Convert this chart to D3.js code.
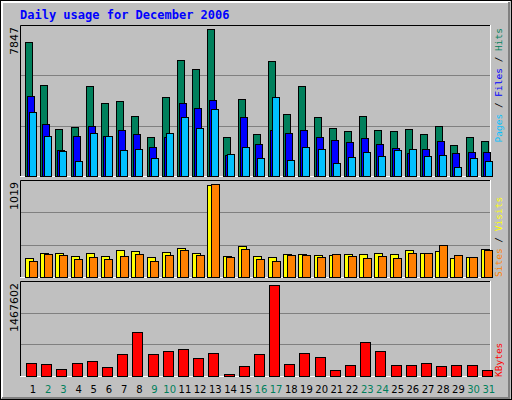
<!DOCTYPE html>
<html><head><meta charset="utf-8">
<script src="https://cdn.jsdelivr.net/npm/d3@7"></script>
<style>body{margin:0;background:#fff}</style>
</head><body>
<svg id="chart" width="512" height="400"></svg>
<script>
const days = d3.range(1, 32);
const weekend = [2, 3, 9, 10, 16, 17, 23, 24, 30, 31];
const hits  = [7154,4864,2521,2627,4811,3906,4012,3213,2095,4225,6196,5716,7847,2095,4119,2255,6143,3320,4811,3160,2574,2414,3213,2468,2414,2521,2255,2681,1669,2095,1882];
const files = [4278,2787,1402,2148,2681,2148,2468,2255,1562,2095,3906,3639,4065,1136,3160,1722,2468,2308,2468,2095,1935,1829,2042,1722,1509,1243,1456,1882,1243,1296,1296];
const pages = [3426,2148,1349,817,2308,2148,1402,1456,976,2308,3160,2574,3586,1189,1562,976,4225,870,1562,1456,710,1030,1296,1083,1402,1456,1083,1136,497,976,817];
const sites = [210,266,266,233,266,233,299,288,222,277,321,266,1008,233,343,233,222,255,255,244,244,255,255,266,255,299,266,288,210,222,310];
const visits = [177,255,244,199,222,199,233,255,177,244,299,244,1019,222,310,199,177,244,244,222,255,233,210,233,210,266,266,354,244,222,299];
const kbytes = [214000,198000,118000,214000,246000,150000,359000,712000,359000,407000,439000,295000,375000,37000,166000,359000,1467602,198000,375000,311000,102000,182000,552000,407000,182000,182000,214000,166000,182000,182000,102000];

const svg = d3.select('#chart');
const mono = 'DejaVu Sans Mono';

// frame
svg.append('rect').attr('x', 0.5).attr('y', 0.5).attr('width', 511).attr('height', 399).attr('fill', '#c0c0c0').attr('stroke', '#000');
svg.append('path').attr('d', 'M2,398V2H510').attr('fill', 'none').attr('stroke', '#fff').attr('stroke-width', 2);
svg.append('path').attr('d', 'M509,2V398H2').attr('fill', 'none').attr('stroke', '#808080').attr('stroke-width', 2);

svg.append('text').attr('x', 20).attr('y', 19).attr('fill', '#0000ff')
  .style('font', `bold 12px "${mono}"`).text('Daily usage for December 2006');

const x = d3.scaleBand().domain(days).range([20, 491]);

const panels = [
  { top: 25, bottom: 177, max: 7847, series: [[hits, '#00805c', 5, 7], [files, '#0000ff', 7, 7], [pages, '#00c0ff', 9, 7]],
    legend: [['Pages', '#00c0ff'], ['Files', '#0000ff'], ['Hits', '#00805c']], ly: 28, anchor: 'end' },
  { top: 180, bottom: 278, max: 1019, series: [[sites, '#ffff00', 5, 8], [visits, '#ff8000', 8.5, 8]],
    legend: [['Sites', '#ff8000'], ['Visits', '#ffff00']], ly: 277, anchor: 'start' },
  { top: 281, bottom: 377, max: 1467602, series: [[kbytes, '#ff0000', 6, 10]],
    legend: [['KBytes', '#ff0000']], ly: 377, anchor: 'start' }
];

panels.forEach(p => {
  const base = p.bottom - 1;
  const y = d3.scaleLinear().domain([0, p.max]).range([base, p.top + 4]);
  svg.append('rect').attr('x', 20).attr('y', p.top).attr('width', 471).attr('height', p.bottom - p.top)
    .attr('fill', '#c0c0c0');
  svg.append('path').attr('d', `M20.5,${p.bottom}V${p.top + 0.5}H491`).attr('fill', 'none').attr('stroke', '#000');
  svg.append('path').attr('d', `M490.5,${p.top}V${p.bottom - 0.5}H20`).attr('fill', 'none').attr('stroke', '#fff');
  [1 / 3, 2 / 3].forEach(f => {
    const gy = Math.round(base - f * (base - p.top)) + 0.5;
    svg.append('line').attr('x1', 21).attr('x2', 490).attr('y1', gy).attr('y2', gy).attr('stroke', '#808080');
  });
  p.series.forEach(([vals, col, off, w]) => {
    svg.append('g').selectAll('rect').data(vals).join('rect')
      .attr('x', (d, i) => Math.round(x(days[i]) + off) + 0.5)
      .attr('y', d => Math.round(y(d)) + 0.5)
      .attr('width', w)
      .attr('height', d => base - Math.round(y(d)))
      .attr('fill', col).attr('stroke', '#000');
  });
  svg.append('text').attr('transform', `translate(18,${p.top + 2}) rotate(-90)`).attr('text-anchor', 'end')
    .style('font', '11px "DejaVu Sans"').text(p.max);
  // right legend, reading upward
  const t = svg.append('text').attr('transform', `translate(502,${p.ly}) rotate(-90)`)
    .attr('text-anchor', p.anchor)
    .style('font', `9.5px "${mono}"`);
  p.legend.forEach(([s, c], i) => {
    if (i) t.append('tspan').attr('fill', '#000').text(' / ');
    t.append('tspan').attr('fill', c).text(s);
  });
});

svg.append('g').selectAll('text').data(days).join('text')
  .attr('x', d => x(d) + 13).attr('y', 393).attr('text-anchor', 'middle')
  .attr('fill', d => weekend.includes(d) ? '#00805c' : '#000')
  .style('font', '10px "DejaVu Sans"').text(d => d);
</script>
</body></html>
